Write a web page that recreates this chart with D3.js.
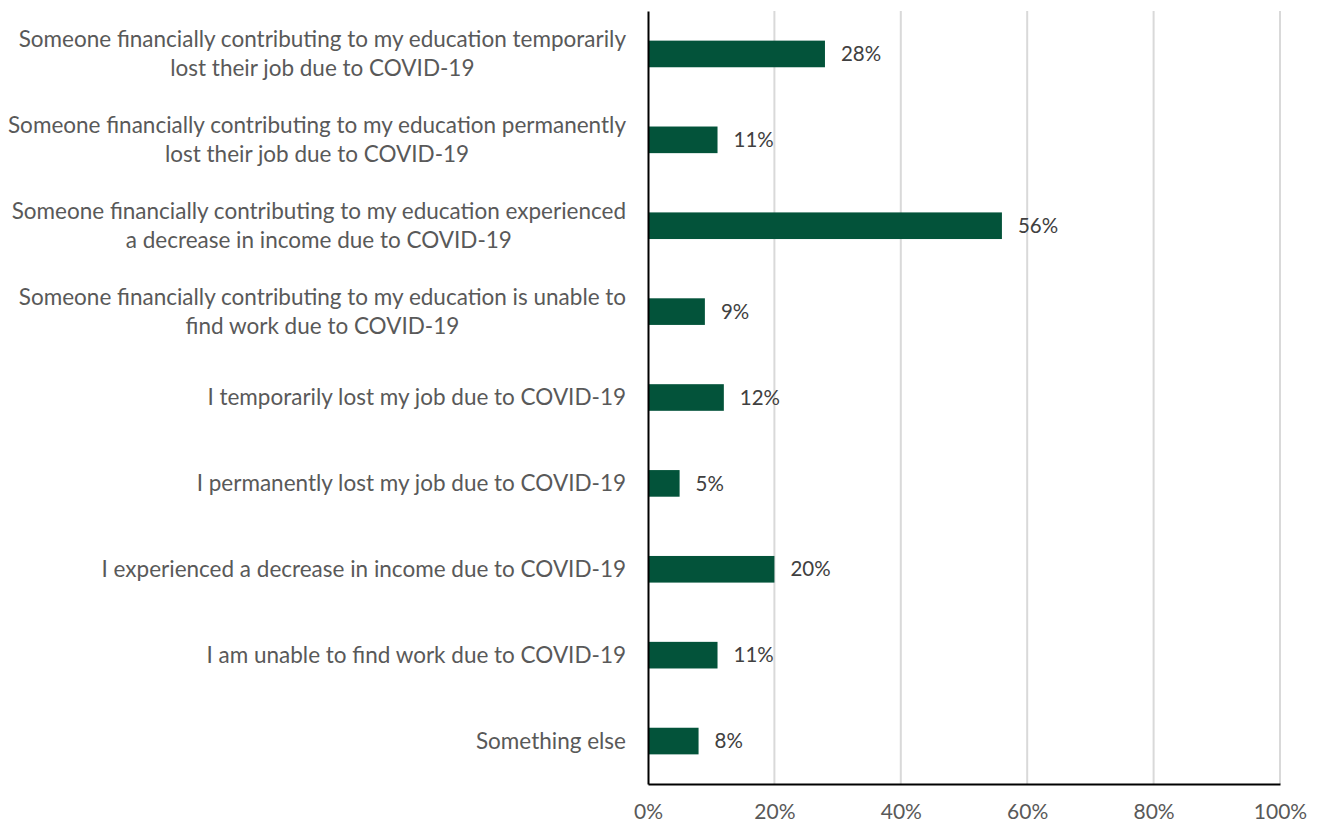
<!DOCTYPE html>
<html>
<head>
<meta charset="utf-8">
<script src="https://cdn.jsdelivr.net/npm/d3@7"></script>
<style>
  body { margin: 0; background: #fff; }
  svg text { font-family: Lato, "Open Sans", sans-serif; fill: #404040; }
</style>
</head>
<body>
<svg id="chart" width="1319" height="825"></svg>
<script>
// Impact of COVID-19 on respondents' finances (share of respondents)
const categories = [
  ["Someone financially contributing to my education temporarily", "lost their job due to COVID-19"],
  ["Someone financially contributing to my education permanently", "lost their job due to COVID-19"],
  ["Someone financially contributing to my education experienced", "a decrease in income due to COVID-19"],
  ["Someone financially contributing to my education is unable to", "find work due to COVID-19"],
  ["I temporarily lost my job due to COVID-19"],
  ["I permanently lost my job due to COVID-19"],
  ["I experienced a decrease in income due to COVID-19"],
  ["I am unable to find work due to COVID-19"],
  ["Something else"]
];
const values = [28, 11, 56, 9, 12, 5, 20, 11, 8];
const ticks = [0, 20, 40, 60, 80, 100];

const svg = d3.select("#chart");
const margin = { top: 11, right: 39, bottom: 41, left: 648 };
const width = 1319 - margin.left - margin.right;
const height = 825 - margin.top - margin.bottom;
const g = svg.append("g").attr("transform", `translate(${margin.left},${margin.top})`);

const x = d3.scaleLinear().domain([0, 100]).range([0, width]);
const y = d3.scaleBand().domain(d3.range(categories.length)).range([0, height]).paddingInner(0.69).paddingOuter(0.345);

// vertical gridlines
g.selectAll("line.grid").data(ticks.slice(1)).join("line")
  .attr("class", "grid")
  .attr("x1", d => x(d)).attr("x2", d => x(d))
  .attr("y1", 0).attr("y2", height)
  .attr("stroke", "#d9d9d9").attr("stroke-width", 2);

// bars
g.selectAll("rect.bar").data(values).join("rect")
  .attr("class", "bar")
  .attr("x", 0)
  .attr("y", (d, i) => y(i))
  .attr("width", d => x(d))
  .attr("height", y.bandwidth())
  .attr("fill", "#03533a");

// value labels
g.selectAll("text.val").data(values).join("text")
  .attr("class", "val")
  .attr("x", d => x(d) + 16)
  .attr("y", (d, i) => y(i) + y.bandwidth() / 2)
  .attr("dy", "0.35em")
  .attr("font-size", 20.5)
  .style("fill", "#404040")
  .text(d => d + "%");

// axes
const xAxis = d3.axisBottom(x).tickValues(ticks).tickFormat(d => d + "%").tickSize(0).tickPadding(20);
const xg = g.append("g").attr("transform", `translate(0,${height})`).call(xAxis);
xg.select(".domain").attr("stroke", "#000").attr("stroke-width", 2);
xg.selectAll("text").attr("font-size", 21)
  .style("fill", "#595959")
  .style("font-family", "Lato, 'Open Sans', sans-serif");

const yAxis = d3.axisLeft(y).tickSize(0).tickFormat(() => "");
const yg = g.append("g").call(yAxis);
yg.select(".domain").attr("stroke", "#000").attr("stroke-width", 2);

// category labels: block right-aligned to the axis, lines centred within the block
const fs = 22.5;
const lineH = 29;
const labelRight = -22;
const labels = g.selectAll("text.cat").data(categories).join("text")
  .attr("class", "cat")
  .attr("text-anchor", "middle")
  .attr("font-size", fs)
  .style("fill", "#595959")
  .attr("y", (d, i) => y(i) + y.bandwidth() / 2);
labels.selectAll("tspan").data(d => d.map((t, k) => ({ t, k, n: d.length }))).join("tspan")
  .attr("dy", p => p.k === 0 ? ((-(p.n - 1) / 2) * lineH / fs + 0.35) + "em" : (lineH / fs) + "em")
  .text(p => p.t);
labels.each(function () {
  const spans = d3.select(this).selectAll("tspan");
  let maxW = 0;
  spans.each(function () { maxW = Math.max(maxW, this.getComputedTextLength()); });
  spans.attr("x", labelRight - maxW / 2);
});
</script>
</body>
</html>
